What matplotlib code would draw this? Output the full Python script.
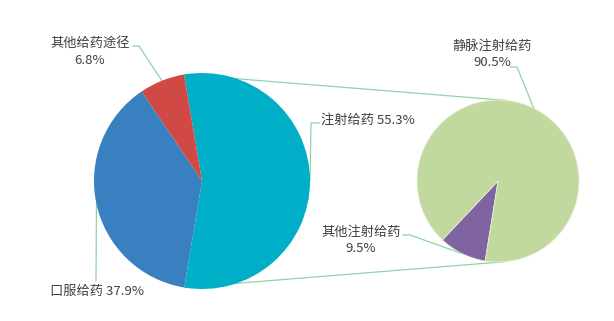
import numpy as np
import matplotlib
matplotlib.use("Agg")
import matplotlib.pyplot as plt

plt.rcParams['font.family'] = ['Noto Sans CJK SC', 'DejaVu Sans']

# Administration routes (main pie)
routes = ['注射给药', '其他给药途径', '口服给药']
route_share = [55.3, 6.8, 37.9]
route_colors = ['#00AFC7', '#D14944', '#3880BF']

# Breakdown of injection (secondary pie)
injection_types = ['其他注射给药', '静脉注射给药']
injection_share = [9.5, 90.5]
injection_colors = ['#8064A2', '#C1D99E']

W, H = 614, 321
fig = plt.figure(figsize=(W / 100, H / 100), dpi=100)
ax = fig.add_axes([0, 0, 1, 1])


def P(x, y):
    """Pixel position (top-left origin) to data coords."""
    return (x, H - y)


line_color = '#8FD3A6'
text_color = '#404040'
fs = 9.5

left_c, left_r = P(202, 181), 108
right_c, right_r = P(498, 181), 81

wl, _ = ax.pie(route_share, colors=route_colors, startangle=-99.5,
               center=left_c, radius=left_r, frame=True,
               wedgeprops=dict(linewidth=0))
wr, _ = ax.pie(injection_share, colors=injection_colors, startangle=226.7,
               center=right_c, radius=right_r, frame=True,
               wedgeprops=dict(linewidth=0.5, edgecolor='#E8F0DC'))


def edge_point(c, r, ang):
    a = np.deg2rad(ang)
    return (c[0] + r * np.cos(a), c[1] + r * np.sin(a))


def mid_angle(w):
    return (w.theta1 + w.theta2) / 2


# connector lines from the injection slice to the secondary pie
teal = wl[0]
for a_left, a_right in [(teal.theta2, 84), (teal.theta1, -84)]:
    p1 = edge_point(left_c, left_r, a_left)
    p2 = edge_point(right_c, right_r, a_right)
    ax.plot([p1[0], p2[0]], [p1[1], p2[1]], color=line_color, lw=0.9,
            zorder=0, solid_capstyle='butt')

# labels with leader lines: (wedge, center, radius, elbow points, text pos, text, ha)
labels = [
    (wl[1], left_c, left_r, [P(139, 46), P(133, 46)], P(90, 52),
     f'{routes[1]}\n{route_share[1]}%', 'center'),
    (wl[0], left_c, left_r, [P(311, 123), P(319, 123)], P(321, 120),
     f'{routes[0]} {route_share[0]}%', 'left'),
    (wl[2], left_c, left_r, [P(96, 281)], P(50, 291),
     f'{routes[2]} {route_share[2]}%', 'left'),
    (wr[1], right_c, right_r, [P(517, 67), P(510, 67)], P(492, 54),
     f'{injection_types[1]}\n{injection_share[1]}%', 'center'),
    (wr[0], right_c, right_r, [P(410, 235), P(403, 235)], P(361, 240),
     f'{injection_types[0]}\n{injection_share[0]}%', 'center'),
]

for w, c, r, elbows, tpos, txt, ha in labels:
    start = edge_point(c, r, mid_angle(w))
    pts = [start] + elbows
    xs, ys = zip(*pts)
    ax.plot(xs, ys, color=line_color, lw=0.9, zorder=0)
    ax.text(tpos[0], tpos[1], txt, ha=ha, va='center', fontsize=fs,
            color=text_color, linespacing=1.35, multialignment='center')

ax.set_xlim(0, W)
ax.set_ylim(0, H)
ax.set_aspect('equal')
ax.axis('off')

fig.savefig('out.png', dpi=100)
